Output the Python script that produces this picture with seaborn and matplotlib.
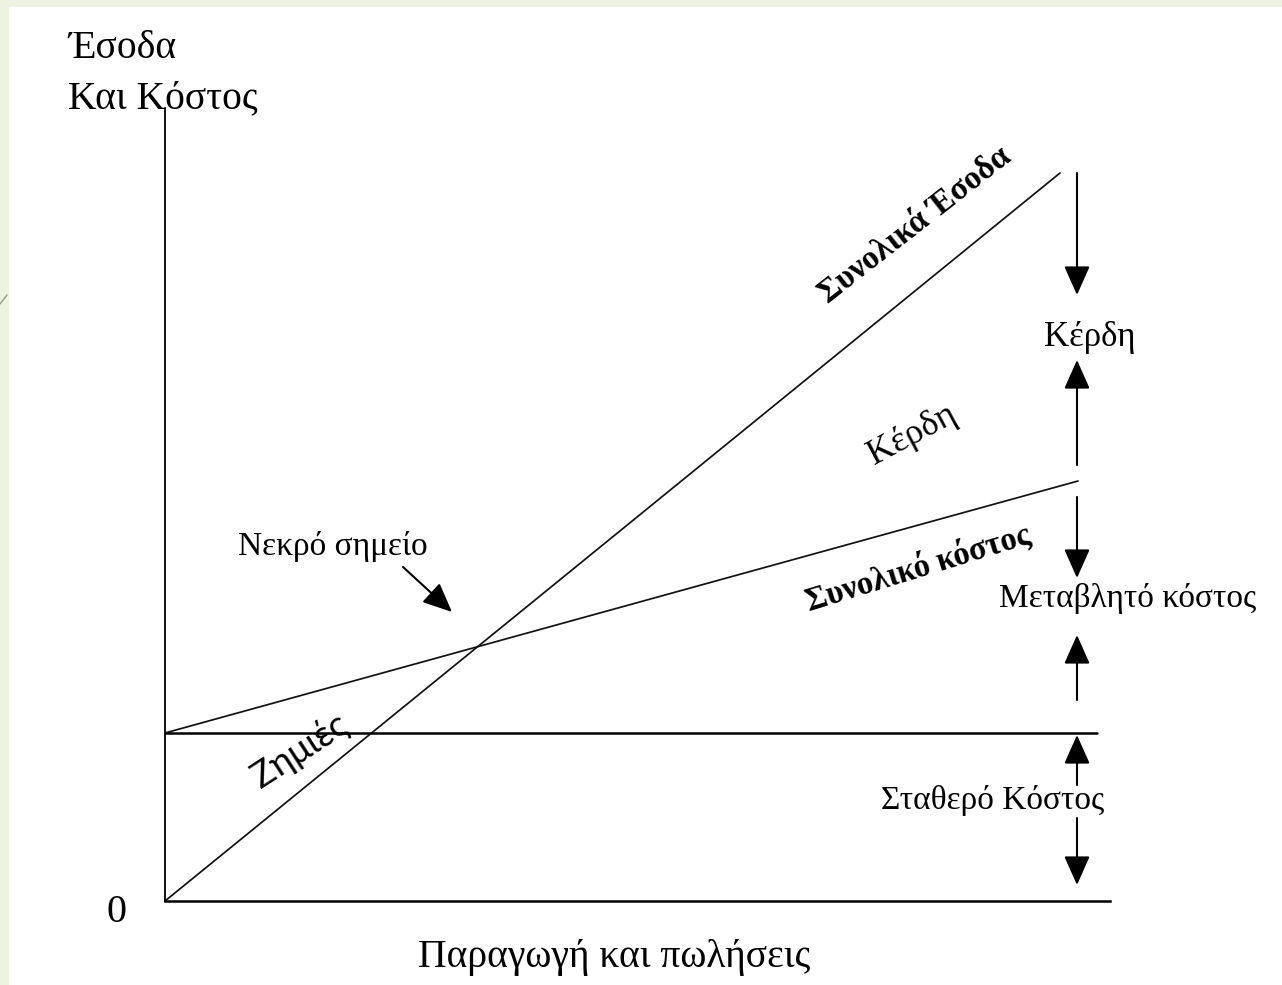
import pandas as pd
import matplotlib.pyplot as plt
import seaborn as sns
from matplotlib.lines import Line2D
from matplotlib.patches import Rectangle

# Break-even chart values (units: quantity / money)
revenue_x = [0, 89.5]
revenue_y = [0, 72.8]
total_cost_x = [0, 91.3]
total_cost_y = [16.8, 42.0]
fixed_cost_x = [0, 93.2]
fixed_cost_y = [16.8, 16.8]

# vertical bracket arrows on the right: (start, tip)
bracket_x = 91.2
bracket_arrows = [(72.8, 60.6), (43.6, 54.1), (40.4, 32.3),
                  (20.1, 26.6), (11.6, 16.6), (8.3, 1.6)]
breakeven_arrow = [(23.8, 33.4), (28.7, 28.9)]

labels_right = ["Κέρδη", "Μεταβλητό κόστος", "Σταθερό Κόστος"]


def plot_break_even(save_path):
    sns.set_style("white")
    plt.rcParams['font.family'] = ['Liberation Serif', 'DejaVu Serif']
    plt.rcParams['text.color'] = 'black'

    fig = plt.figure(figsize=(12.82, 9.85), dpi=100)
    fig.patch.set_facecolor('#eef2e1')
    fig.patches.append(Rectangle((9 / 1282, 0), 1, 978 / 985, transform=fig.transFigure,
                                 facecolor='white', edgecolor='none', zorder=-10))
    fig.lines.append(Line2D([0, 7 / 1282], [1 - 304 / 985, 1 - 295 / 985],
                            transform=fig.transFigure, color='#9a9a8a', lw=1))

    ax = fig.add_axes([165 / 1282, 84 / 985, 945 / 1282, 793 / 985])
    ax.set_facecolor('none')

    df = pd.concat([
        pd.DataFrame({'x': revenue_x, 'y': revenue_y, 'line': 'revenue'}),
        pd.DataFrame({'x': total_cost_x, 'y': total_cost_y, 'line': 'total'}),
    ])
    sns.lineplot(data=df, x='x', y='y', units='line', estimator=None,
                 color='#111111', linewidth=1.25, ax=ax)
    sns.lineplot(x=fixed_cost_x, y=fixed_cost_y, color='black', linewidth=1.8, ax=ax)

    ax.set_xlim(0, 94.5)
    ax.set_ylim(0, 79.3)
    ax.set_xticks([])
    ax.set_yticks([])
    ax.set_xlabel('')
    ax.set_ylabel('')
    sns.despine(ax=ax)
    ax.spines['left'].set_linewidth(1.3)
    ax.spines['bottom'].set_linewidth(1.8)
    ax.spines['left'].set_color('black')
    ax.spines['bottom'].set_color('black')

    arrow_props = dict(arrowstyle='-|>,head_length=1.8,head_width=0.8', color='black',
                       lw=1.5, shrinkA=0, shrinkB=0, mutation_scale=10)
    for start, tip in bracket_arrows:
        ax.annotate('', xy=(bracket_x, tip), xytext=(bracket_x, start),
                    arrowprops=arrow_props, annotation_clip=False)
    ax.annotate('', xy=breakeven_arrow[1], xytext=breakeven_arrow[0],
                arrowprops=arrow_props, annotation_clip=False)

    # axis titles
    ax.text(-9.7, 84.3, "Έσοδα", fontsize=28.5, ha='left', va='baseline', clip_on=False)
    ax.text(-9.7, 79.3, "Και Κόστος", fontsize=28.5, ha='left', va='baseline', clip_on=False)
    ax.text(-4.9, -1.1, "0", fontsize=29, ha='center', va='center', clip_on=False)
    ax.text(44.9, -5.6, "Παραγωγή και πωλήσεις", fontsize=28.5, ha='center', va='center',
            clip_on=False)

    # labels along the lines
    ax.text(75.0, 67.6, "Συνολικά Έσοδα", fontsize=23.5, fontweight='bold', rotation=38,
            rotation_mode='anchor', ha='center', va='center')
    ax.text(74.7, 46.6, "Κέρδη", fontsize=26, rotation=28,
            rotation_mode='anchor', ha='center', va='center')
    ax.text(75.3, 33.3, "Συνολικό κόστος", fontsize=23.5, fontweight='bold', rotation=17,
            rotation_mode='anchor', ha='center', va='center')
    ax.text(13.5, 15.0, "Ζημιές", fontsize=26, rotation=33, family=['Lato', 'DejaVu Sans'],
            rotation_mode='anchor', ha='center', va='center')
    ax.text(16.8, 35.5, "Νεκρό σημείο", fontsize=24, ha='center', va='center')

    # bracket labels
    ax.text(92.5, 56.4, labels_right[0], fontsize=25, ha='center', va='center', clip_on=False)
    ax.text(96.3, 30.3, labels_right[1], fontsize=24, ha='center', va='center', clip_on=False)
    ax.text(82.8, 10.1, labels_right[2], fontsize=24, ha='center', va='center', clip_on=False)

    plt.savefig(save_path, dpi=100, facecolor=fig.get_facecolor())


if __name__ == "__main__":
    plot_break_even("out.png")
